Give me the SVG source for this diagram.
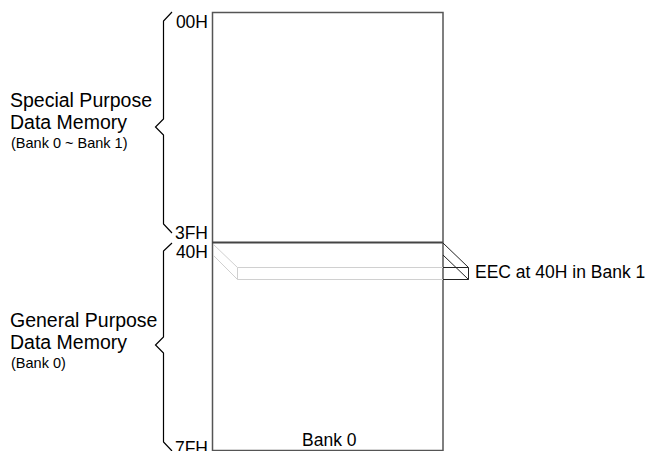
<svg xmlns="http://www.w3.org/2000/svg" width="653" height="451" viewBox="0 0 653 451">
<style>
.t{font-family:"Liberation Sans",Arial,sans-serif;fill:#000}
.big{font-size:19.5px}
.sm{font-size:14.5px}
.lb{font-size:17.5px}
.brace{fill:none;stroke:#000;stroke-width:1.2}
.light{fill:none;stroke:#d0d0d0;stroke-width:1}
.dark{fill:none;stroke:#222;stroke-width:1}
</style>
<rect width="653" height="451" fill="#fff"/>
<g id="bank0">
<rect x="212.5" y="12.5" width="230.5" height="438" fill="#fff" stroke="#555" stroke-width="1.5"/>
<line x1="212" y1="242.5" x2="443" y2="242.5" stroke="#444" stroke-width="2"/>
<text class="t lb" x="302" y="446">Bank 0</text>
</g>
<g id="eec">
<polyline class="light" points="213,244 237.5,267.5 443,267.5"/>
<polyline class="light" points="213,255 237.5,279.5 443,279.5"/>
<line class="light" x1="237.5" y1="267.5" x2="237.5" y2="279.5"/>
<polyline class="dark" points="443,243 468.5,267.5 468.5,279.5 443,279.5"/>
<line class="dark" x1="443" y1="267.5" x2="468.5" y2="267.5"/>
<line class="dark" x1="443" y1="255" x2="468.5" y2="279.5"/>
<text class="t lb" x="475" y="278">EEC at 40H in Bank 1</text>
</g>
<g id="special">
<polyline class="brace" points="172,12 163.5,21 163.5,119 155.5,127 163.5,135 163.5,224 172,233"/>
<text class="t big" x="10" y="107">Special Purpose</text>
<text class="t big" x="10" y="129">Data Memory</text>
<text class="t sm" x="11" y="148">(Bank 0 ~ Bank 1)</text>
<text class="t lb" x="208" y="28" text-anchor="end">00H</text>
<text class="t lb" x="208" y="239" text-anchor="end">3FH</text>
</g>
<g id="general">
<polyline class="brace" points="172,243 163.5,251 163.5,337 155.5,345 163.5,353 163.5,442 172,451"/>
<text class="t big" x="10" y="327">General Purpose</text>
<text class="t big" x="10" y="349">Data Memory</text>
<text class="t sm" x="11" y="368">(Bank 0)</text>
<text class="t lb" x="208" y="258" text-anchor="end">40H</text>
<text class="t lb" x="208" y="454" text-anchor="end">7FH</text>
</g>
</svg>
